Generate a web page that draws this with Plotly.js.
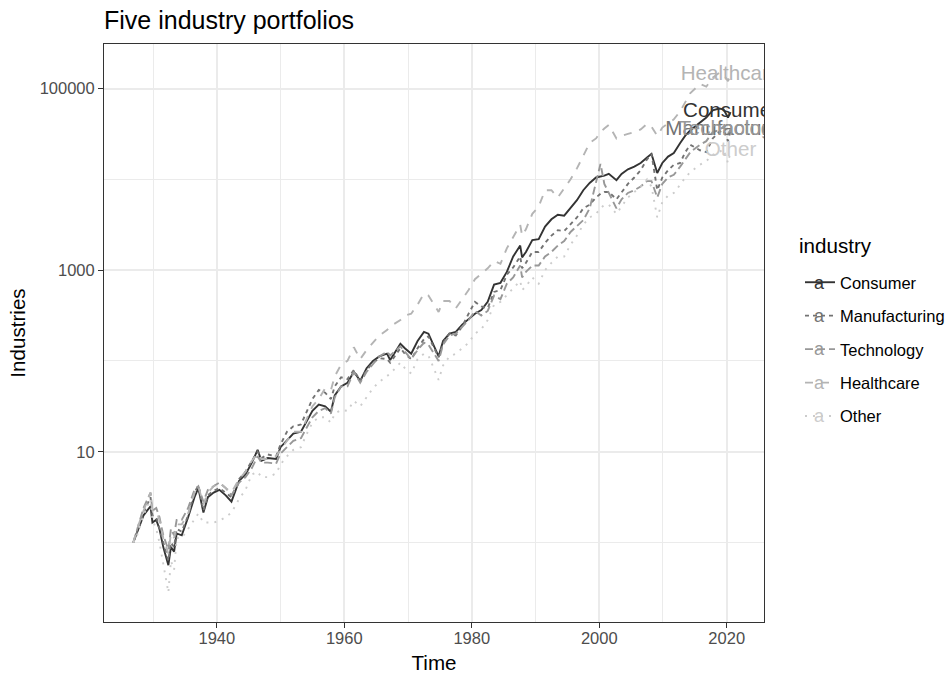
<!DOCTYPE html>
<html><head><meta charset="utf-8">
<script src="https://cdn.plot.ly/plotly-3.0.1.min.js"></script>
<style>html,body{margin:0;padding:0;background:#fff}</style>
</head><body>
<div id="chart" style="width:949px;height:675px"></div>
<script>
// Decimal-year dates of the sampled points
var years = [1926.9, 1927.5, 1928.5, 1929.6, 1929.9, 1930.5, 1931.0, 1931.6, 1932.4, 1932.8, 1933.3, 1933.7, 1934.5, 1935.5, 1936.5, 1937.1, 1937.9, 1938.6, 1939.5,
  1940.4, 1941.4, 1942.3, 1943.5, 1944.5, 1945.5, 1946.4, 1947.0, 1948.0, 1949.3,
  1950.0, 1951.0, 1952.0, 1953.2, 1954.0, 1955.0, 1956.0, 1957.0, 1957.9, 1958.5, 1959.5,
  1960.5, 1961.5, 1962.5, 1963.5, 1964.5, 1965.5, 1966.7, 1967.2, 1968.8, 1969.5, 1970.5, 1971.5, 1972.5, 1973.2, 1974.8, 1975.5, 1976.5, 1977.5, 1978.5, 1979.5,
  1980.5, 1981.5, 1982.5, 1983.5, 1984.5, 1985.5, 1986.5, 1987.6, 1987.9, 1988.5, 1989.5, 1990.5, 1991.5, 1992.5, 1993.5, 1994.5, 1995.5, 1996.5, 1997.5, 1998.5, 1999.5,
  2000.2, 2000.8, 2001.5, 2002.7, 2003.5, 2004.5, 2005.5, 2006.5, 2007.5, 2008.2, 2009.1, 2009.9, 2010.8, 2011.7, 2012.7, 2013.5, 2014.3, 2015.8, 2016.8, 2017.8, 2018.8, 2019.5, 2020.2, 2020.6];

// Cumulative value of $1, stored as log10(value)
var consumer = [0.00, 0.12, 0.30, 0.40, 0.22, 0.25, 0.15, -0.05, -0.25, -0.05, -0.10, 0.10, 0.08, 0.28, 0.50, 0.60, 0.33, 0.50, 0.55,
  0.58, 0.52, 0.45, 0.68, 0.75, 0.88, 1.02, 0.90, 0.93, 0.92,
  1.05, 1.12, 1.20, 1.22, 1.32, 1.45, 1.52, 1.50, 1.44, 1.62, 1.72,
  1.76, 1.88, 1.78, 1.92, 2.00, 2.05, 2.08, 2.01, 2.19, 2.14, 2.08, 2.22, 2.32, 2.30, 2.05, 2.22, 2.30, 2.32, 2.40, 2.46,
  2.52, 2.56, 2.65, 2.84, 2.86, 2.98, 3.15, 3.27, 3.14, 3.20, 3.33, 3.34, 3.48, 3.56, 3.61, 3.60, 3.68, 3.77, 3.88, 3.96, 4.02,
  4.03, 4.04, 4.06, 3.99, 4.06, 4.11, 4.14, 4.18, 4.24, 4.28, 4.07, 4.18, 4.25, 4.29, 4.40, 4.48, 4.54, 4.63, 4.68, 4.76, 4.78, 4.77, 4.68, 4.74];

var manufacturing = [0.00, 0.12, 0.32, 0.50, 0.30, 0.28, 0.15, -0.02, -0.20, 0.00, -0.05, 0.15, 0.12, 0.30, 0.55, 0.63, 0.35, 0.52, 0.57,
  0.60, 0.55, 0.50, 0.70, 0.78, 0.90, 1.00, 0.93, 0.97, 0.95,
  1.08, 1.22, 1.28, 1.30, 1.42, 1.58, 1.68, 1.65, 1.58, 1.72, 1.82,
  1.80, 1.90, 1.78, 1.90, 1.98, 2.03, 2.02, 1.98, 2.14, 2.08, 2.02, 2.14, 2.24, 2.27, 2.04, 2.20, 2.30, 2.28, 2.38, 2.52,
  2.65, 2.60, 2.58, 2.76, 2.78, 2.95, 3.03, 3.15, 3.02, 3.08, 3.20, 3.20, 3.30, 3.38, 3.44, 3.43, 3.50, 3.58, 3.68, 3.72, 3.80,
  3.84, 3.86, 3.86, 3.78, 3.86, 3.95, 4.02, 4.10, 4.22, 4.28, 3.88, 4.02, 4.10, 4.16, 4.18, 4.30, 4.38, 4.32, 4.30, 4.45, 4.52, 4.54, 4.42, 4.54];

var technology = [0.00, 0.14, 0.38, 0.55, 0.35, 0.38, 0.28, 0.08, -0.08, 0.15, 0.08, 0.25, 0.25, 0.38, 0.58, 0.62, 0.45, 0.58, 0.62,
  0.66, 0.60, 0.52, 0.66, 0.72, 0.82, 0.95, 0.88, 0.88, 0.87,
  0.98, 1.05, 1.12, 1.15, 1.25, 1.38, 1.45, 1.48, 1.42, 1.60, 1.72,
  1.72, 1.88, 1.76, 1.88, 1.96, 2.05, 2.10, 2.06, 2.16, 2.10, 2.02, 2.12, 2.20, 2.18, 2.00, 2.18, 2.28, 2.30, 2.38, 2.45,
  2.55, 2.50, 2.55, 2.72, 2.68, 2.85, 2.92, 3.05, 2.92, 2.98, 3.05, 3.05, 3.15, 3.20, 3.27, 3.32, 3.42, 3.48, 3.55, 3.68, 3.95,
  4.17, 3.95, 3.85, 3.68, 3.78, 3.85, 3.88, 3.92, 3.98, 3.98, 3.80, 3.95, 4.02, 4.05, 4.14, 4.22, 4.30, 4.38, 4.42, 4.52, 4.54, 4.58, 4.50, 4.55];

var healthcare = [0.00, 0.15, 0.35, 0.55, 0.35, 0.35, 0.25, 0.05, -0.12, 0.10, 0.05, 0.20, 0.20, 0.32, 0.55, 0.62, 0.42, 0.55, 0.62,
  0.66, 0.60, 0.55, 0.70, 0.78, 0.90, 0.98, 0.92, 0.92, 0.95,
  1.02, 1.12, 1.22, 1.22, 1.35, 1.50, 1.58, 1.70, 1.68, 1.83, 1.96,
  2.00, 2.15, 2.02, 2.12, 2.20, 2.28, 2.34, 2.38, 2.45, 2.50, 2.52, 2.62, 2.74, 2.72, 2.54, 2.66, 2.66, 2.58, 2.68, 2.78,
  2.90, 2.96, 3.02, 3.10, 3.07, 3.24, 3.36, 3.50, 3.38, 3.45, 3.62, 3.70, 3.88, 3.88, 3.80, 3.90, 4.00, 4.12, 4.26, 4.40, 4.45,
  4.52, 4.56, 4.60, 4.45, 4.48, 4.50, 4.52, 4.55, 4.61, 4.58, 4.48, 4.57, 4.62, 4.66, 4.75, 4.85, 4.95, 5.05, 5.02, 5.12, 5.17, 5.16, 5.08, 5.15];

var other = [0.00, 0.08, 0.30, 0.48, 0.25, 0.15, 0.00, -0.25, -0.55, -0.20, -0.30, 0.05, 0.05, 0.15, 0.25, 0.32, 0.22, 0.22, 0.22,
  0.24, 0.28, 0.33, 0.48, 0.58, 0.75, 0.78, 0.72, 0.72, 0.76,
  0.86, 0.95, 1.02, 1.05, 1.18, 1.32, 1.38, 1.38, 1.32, 1.42, 1.46,
  1.45, 1.56, 1.50, 1.60, 1.70, 1.77, 1.83, 1.86, 1.98, 1.92, 1.86, 2.02, 2.08, 2.06, 1.79, 1.95, 2.05, 2.08, 2.14, 2.20,
  2.30, 2.35, 2.45, 2.62, 2.65, 2.72, 2.80, 2.88, 2.78, 2.82, 2.92, 2.85, 3.00, 3.08, 3.15, 3.15, 3.28, 3.38, 3.50, 3.58, 3.62,
  3.68, 3.72, 3.72, 3.62, 3.70, 3.80, 3.86, 3.92, 4.00, 3.92, 3.58, 3.75, 3.82, 3.85, 3.94, 4.02, 4.08, 4.16, 4.20, 4.27, 4.30, 4.33, 4.18, 4.31];

var industries = ['Consumer', 'Manufacturing', 'Technology', 'Healthcare', 'Other'];
var yTickVals = [10, 1000, 100000];
var yTickText = ['10', '1000', '100000'];
var xTickVals = [1940, 1960, 1980, 2000, 2020];

var seriesList = [consumer, manufacturing, technology, healthcare, other];
var colors = ['#333333', '#737373', '#989898', '#b4b4b4', '#cccccc'];
var dashes = ['solid', '4px,4px', '8px,4px', '8px,8px', '2px,6px'];
var FONT = 'Liberation Sans, Arial, sans-serif';

function toValue(arr) { return arr.map(function (v) { return Math.pow(10, v); }); }

var traces = [];
industries.forEach(function (name, i) {
  traces.push({
    type: 'scatter', mode: 'lines', name: name, legendgroup: name,
    x: years, y: toValue(seriesList[i]),
    line: { color: colors[i], width: 1.9, dash: dashes[i] },
    hoverinfo: 'skip'
  });
});
var last = years.length - 1;
traces.push({
  type: 'scatter', mode: 'text', showlegend: false, hoverinfo: 'skip',
  x: industries.map(function () { return years[last]; }),
  y: seriesList.map(function (s) { return Math.pow(10, s[last]); }),
  text: industries,
  textposition: 'middle center',
  textfont: { color: colors, size: 20.6, family: FONT },
  cliponaxis: true
});

// Legend key glyph "a" (ggplot text-key) drawn over each legend line
var legendTop = 265;
var itemStep = 33.2;
var firstItemY = 283;
var annotations = [{
  text: 'industry', xref: 'paper', yref: 'paper', x: (797 - 104) / 660, y: (622 - 245) / 578,
  xanchor: 'left', yanchor: 'middle', showarrow: false, font: { size: 20.6, color: '#000000', family: FONT }
}];
industries.forEach(function (name, i) {
  annotations.push({
    text: 'a', xref: 'paper', yref: 'paper', x: (819 - 104) / 660, y: (622 - (firstItemY + i * itemStep)) / 578,
    xanchor: 'center', yanchor: 'middle', showarrow: false, font: { size: 18, color: colors[i], family: FONT }
  });
});

var layout = {
  width: 949, height: 675,
  margin: { l: 104, r: 185, t: 44, b: 53, autoexpand: false },
  paper_bgcolor: '#ffffff', plot_bgcolor: '#ffffff',
  font: { family: FONT, color: '#000000' },
  title: { text: 'Five industry portfolios', xref: 'container', yref: 'container', x: 104 / 949, xanchor: 'left', y: 1 - 20 / 675, yanchor: 'middle', font: { size: 25, color: '#000000' } },
  xaxis: {
    range: [1922.3, 2025.85], tickvals: xTickVals, ticktext: xTickVals.map(String),
    ticks: 'outside', ticklen: 5, tickwidth: 1, tickcolor: '#333333', ticklabelstandoff: -4,
    tickfont: { size: 16.5, color: '#4d4d4d' },
    showline: true, mirror: true, linecolor: '#333333', linewidth: 1,
    showgrid: true, gridcolor: '#ebebeb', gridwidth: 2, zeroline: false,
    minor: { tickvals: [1930, 1950, 1970, 1990, 2010], showgrid: true, gridcolor: '#ebebeb', gridwidth: 1, ticks: '' },
    title: { text: 'Time', font: { size: 20.6, color: '#000000' }, standoff: 9 },
    automargin: false
  },
  yaxis: {
    type: 'log', range: [-0.875, 5.49], tickvals: yTickVals, ticktext: yTickText,
    ticks: 'outside', ticklen: 5, tickwidth: 1, tickcolor: '#333333',
    tickfont: { size: 16.5, color: '#4d4d4d' },
    showline: true, mirror: true, linecolor: '#333333', linewidth: 1,
    showgrid: true, gridcolor: '#ebebeb', gridwidth: 2, zeroline: false,
    minor: { tickvals: [1, 100, 10000], showgrid: true, gridcolor: '#ebebeb', gridwidth: 1, ticks: '' },
    title: { text: 'Industries', font: { size: 20.6, color: '#000000' }, standoff: 8 },
    automargin: false
  },
  annotations: annotations,
  showlegend: true,
  legend: {
    x: (800 - 104) / 660, xanchor: 'left', y: (622 - legendTop) / 578, yanchor: 'top',
    font: { size: 16.5, color: '#000000', family: FONT },
    tracegroupgap: 9, traceorder: 'grouped', bgcolor: 'rgba(0,0,0,0)', borderwidth: 0
  }
};

Plotly.newPlot('chart', traces, layout, { displayModeBar: false, staticPlot: true });
</script>
</body></html>
